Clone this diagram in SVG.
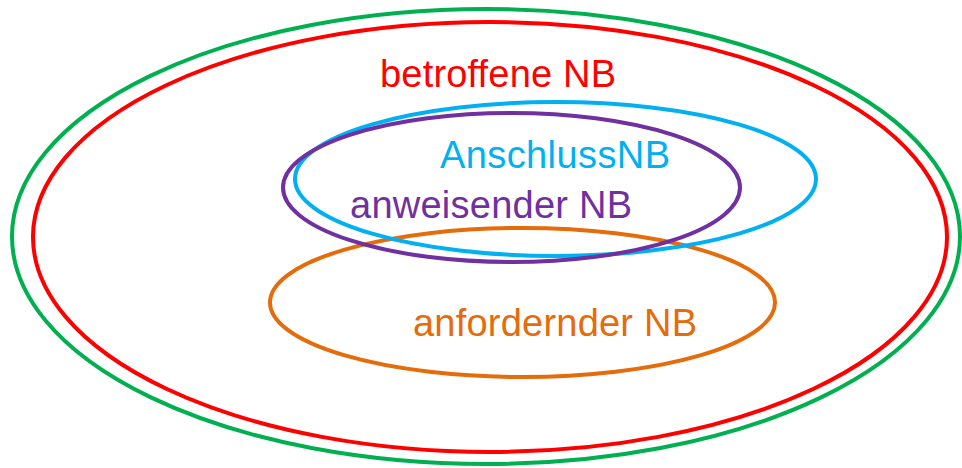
<svg xmlns="http://www.w3.org/2000/svg" width="962" height="468" viewBox="0 0 962 468">
<style>
.e{fill:none;stroke-width:4}
.t{font-family:"Liberation Sans",Arial,sans-serif;font-size:38px}
</style>
<rect width="962" height="468" fill="#fff"/>
<g id="gesamt"><ellipse class="e" cx="486" cy="236.5" rx="474" ry="227.5" stroke="#00B050"/></g>
<g id="betroffene"><ellipse class="e" cx="490" cy="237" rx="457" ry="215" stroke="#FF0000"/>
<text class="t" x="380" y="87" fill="#FF0000" textLength="236">betroffene NB</text></g>
<g id="anfordernder"><ellipse class="e" cx="522.5" cy="302.5" rx="252.5" ry="74.5" stroke="#E46C0A"/>
<text class="t" x="413" y="336" fill="#E46C0A" textLength="284">anfordernder NB</text></g>
<g id="anschluss"><ellipse class="e" cx="555.5" cy="179" rx="260.5" ry="77" stroke="#00B0F0"/>
<text class="t" x="440" y="168" fill="#00B0F0" textLength="230">AnschlussNB</text></g>
<g id="anweisender"><ellipse class="e" cx="511.5" cy="187.5" rx="228.5" ry="74.5" stroke="#7030A0"/>
<text class="t" x="350" y="218" fill="#7030A0" textLength="282">anweisender NB</text></g>
<g id="connectors"></g>
</svg>
